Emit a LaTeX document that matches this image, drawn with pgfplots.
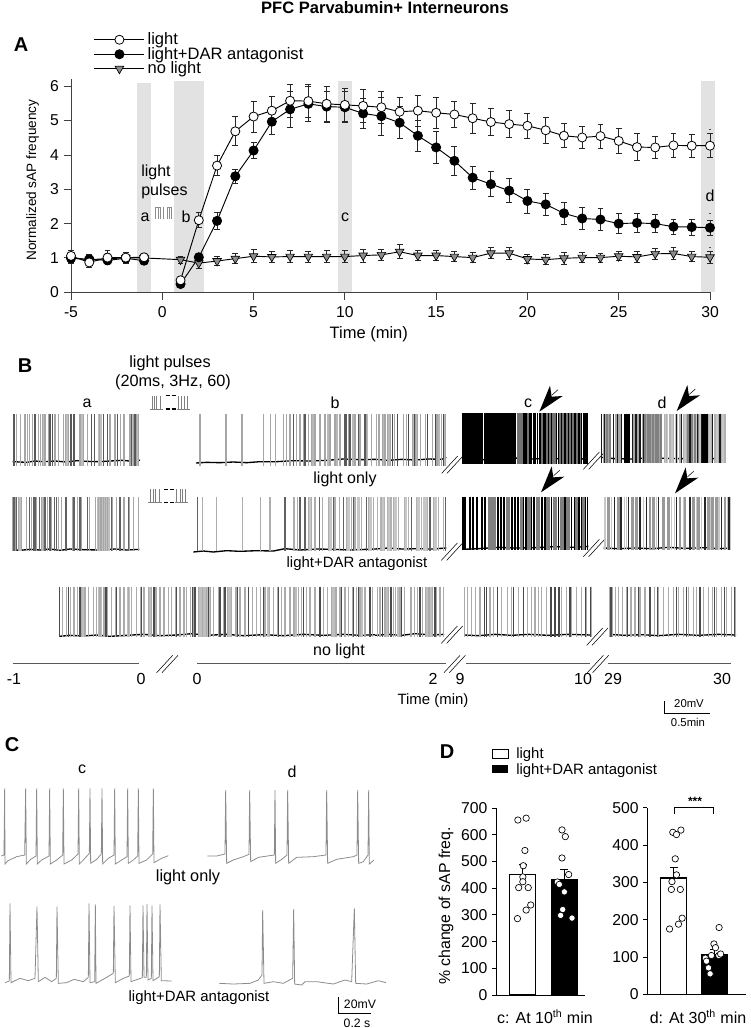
\documentclass[border=0pt]{standalone}
\usepackage{fontspec}
\setmainfont{Liberation Sans}
\usepackage{pgfplots}
\pgfplotsset{compat=1.18}

\definecolor{band}{HTML}{E2E2E2}
\definecolor{tracegray}{HTML}{8C8C8C}
\newcommand{\fs}{\fontsize{11.2}{13}\selectfont}
\newcommand{\fsm}{\fontsize{12}{14}\selectfont}
\newcommand{\fsb}{\fontsize{15}{17}\selectfont\bfseries}

% one row of spikes: half height, colour, line width, centre y, x list
\newcommand{\spk}[5]{\addplot[only marks, mark=|, mark size=#1, color=#2,
  mark options={draw=#2, line width=#3+0.3pt}]
  table[row sep=\\, header=false, x index=0, y expr=#4] {#5};}
\newcommand{\base}[1]{\addplot[black, line width=1pt, no marks] coordinates {#1};}
\newcommand{\brk}[2]{\draw[black, line width=0.4pt] (axis cs:#1,#2) -- (axis cs:#1+48,#2-52)
  (axis cs:#1+16,#2) -- (axis cs:#1+64,#2-52);}
\newcommand{\arrowh}[2]{\fill[black] (axis cs:#1,#2) -- (axis cs:#1+32,#2-78) -- (axis cs:#1+37,#2-45)
  -- (axis cs:#1+70,#2-47) -- cycle;
  \draw[black, line width=0.4pt] (axis cs:#1+38,#2-50) -- (axis cs:#1+56,#2-66);}
\newcommand{\pulses}[2]{\draw[gray, line width=0.4pt]
  (axis cs:#1,#2+40) -- (axis cs:#1+40,#2+40) (axis cs:#1+6,#2) -- (axis cs:#1+6,#2+40)
  (axis cs:#1+14,#2) -- (axis cs:#1+14,#2+40) (axis cs:#1+20,#2) -- (axis cs:#1+20,#2+40)
  (axis cs:#1+32,#2) -- (axis cs:#1+32,#2+40)
  (axis cs:#1+80,#2+40) -- (axis cs:#1+120,#2+40) (axis cs:#1+85,#2) -- (axis cs:#1+85,#2+40)
  (axis cs:#1+95,#2) -- (axis cs:#1+95,#2+40) (axis cs:#1+102,#2) -- (axis cs:#1+102,#2+40)
  (axis cs:#1+112,#2) -- (axis cs:#1+112,#2+40);
  \draw[black, line width=1pt] (axis cs:#1+47,#2) -- (axis cs:#1+60,#2) (axis cs:#1+65,#2) -- (axis cs:#1+77,#2)
  (axis cs:#1+47,#2+40) -- (axis cs:#1+60,#2+40) (axis cs:#1+65,#2+40) -- (axis cs:#1+77,#2+40);}

\pgfplotsset{ebar/.style={error bars/.cd, y dir=both, y explicit,
    error bar style={black!85, line width=0.65pt},
    error mark options={rotate=90, black!85, mark size=2.2pt, line width=0.65pt}},
  trace/.style={tracegray, line width=0.6pt, no marks}}

\pgfplotstableread{
x y e
-5 1.06 .15
-4 0.87 .15
-3 1.01 .20
-2 1.01 .15
-1 1.02 .12
0 nan 0
1 0.35 .10
2 2.10 .22
3 3.69 .30
4 4.69 .42
5 5.12 .45
6 5.29 .43
7 5.58 .49
8 5.57 .49
9 5.49 .50
10 5.46 .49
11 5.43 .48
12 5.39 .47
13 5.26 .41
14 5.29 .45
15 5.23 .45
16 5.18 .39
17 5.07 .43
18 4.96 .39
19 4.90 .39
20 4.85 .37
21 4.72 .37
22 4.56 .35
23 4.51 .33
24 4.55 .35
25 4.41 .36
26 4.23 .39
27 4.22 .33
28 4.28 .34
29 4.27 .33
30 4.27 .35
}\lighttab
\pgfplotstableread{
x y e
-5 0.99 .12
-4 0.96 .12
-3 0.93 .12
-2 0.99 .12
-1 0.92 .12
0 nan 0
1 0.24 .08
2 1.02 .10
3 2.08 .25
4 3.38 .20
5 4.13 .24
6 4.97 .38
7 5.33 .52
8 5.49 .50
9 5.41 .45
10 5.39 .45
11 5.21 .45
12 5.13 .55
13 4.94 .47
14 4.56 .45
15 4.22 .46
16 3.83 .42
17 3.34 .33
18 3.15 .37
19 2.96 .35
20 2.66 .35
21 2.56 .33
22 2.30 .32
23 2.15 .33
24 2.12 .33
25 2.00 .30
26 2.02 .28
27 2.00 .26
28 1.91 .22
29 1.90 .23
30 1.88 .22
}\dartab
\pgfplotstableread{
x y e
-5 1.00 .15
-4 0.95 .15
-3 0.98 .15
-2 1.00 .15
-1 1.00 .12
1 0.95 .10
2 0.85 .16
3 0.91 .14
4 0.98 .15
5 1.05 .19
6 1.03 .15
7 1.04 .17
8 1.04 .16
9 1.04 .17
10 1.04 .17
11 1.07 .19
12 1.09 .15
13 1.18 .20
14 1.07 .14
15 1.07 .14
16 1.04 .14
17 1.01 .15
18 1.14 .16
19 1.14 .17
20 0.97 .13
21 0.95 .14
22 0.99 .17
23 1.01 .15
24 1.01 .13
25 1.05 .13
26 1.03 .17
27 1.12 .15
28 1.13 .18
29 1.04 .15
30 1.02 .18
}\notab

\begin{document}
\begin{tikzpicture}
\path[use as bounding box] (0,0) rectangle (562.5pt,-771pt);

% panel A
\begin{axis}[
  at={(53.25pt,-219.2pt)}, anchor=south west, scale only axis,
  width=479.25pt, height=159.6pt,
  xmin=-5, xmax=30, ymin=0, ymax=6.2,
  axis lines=left, axis line style={-, black!75, line width=0.7pt},
  xtick={-5,0,...,30}, ytick={0,...,6},
  tick align=outside, tick style={black!75, line width=0.7pt}, major tick length=5.5pt,
  tick label style={font=\fontsize{11.8}{14}\selectfont}, /pgf/number format/assume math mode=true,
  xticklabel style={yshift=-2pt},
  xlabel={Time (min)}, ylabel={Normalized sAP frequency},
  xlabel style={font=\fontsize{12.4}{14}\selectfont, at={(axis description cs:0.466,0)}, anchor=north, yshift=-22.5pt},
  ylabel style={font=\fontsize{10.2}{12}\selectfont, at={(axis description cs:-0.060,0.527)}, anchor=center},
  clip=false, unbounded coords=jump,
  reverse legend,
  legend style={at={(17pt,178.5pt)}, anchor=west, draw=none, fill=none,
    font=\fontsize{12.4}{12.4}\selectfont,
    row sep=-3.6pt, inner sep=0pt, cells={anchor=west}},
  legend image code/.code={\draw[#1, mark repeat=2, mark phase=2]
    plot coordinates {(0cm,0cm) (0.66cm,0cm) (1.32cm,0cm)};},
]
\addplot[forget plot, fill=band, draw=none] coordinates {(-1.38,0)(-1.38,6.09)(-0.63,6.09)(-0.63,0)} --cycle;
\addplot[forget plot, fill=band, draw=none] coordinates {(0.63,0)(0.63,6.15)(2.27,6.15)(2.27,0)} --cycle;
\addplot[forget plot, fill=band, draw=none] coordinates {(9.6,0)(9.6,6.15)(10.37,6.15)(10.37,0)} --cycle;
\addplot[forget plot, fill=band, draw=none] coordinates {(29.5,0)(29.5,6.15)(30.3,6.15)(30.3,0)} --cycle;
\addplot[black, line width=0.7pt, mark=triangle*, mark size=3.7pt,
  mark options={rotate=180, fill=black!45, draw=black, line width=0.5pt}, ebar]
  table[x=x, y=y, y error=e] {\notab};
\addlegendentry{no light}
\addplot[black, line width=0.7pt, mark=*, mark size=3.4pt,
  mark options={fill=black, draw=black}, ebar]
  table[x=x, y=y, y error=e] {\dartab};
\addlegendentry{light+DAR antagonist}
\addplot[black, line width=0.7pt, mark=*, mark size=3.4pt,
  mark options={fill=white, draw=black, line width=0.6pt}, ebar]
  table[x=x, y=y, y error=e] {\lighttab};
\addlegendentry{light}
\end{axis}

% panel B, left half, coordinates are 3x pixels from y=350
\begin{axis}[
  at={(0pt,-532.5pt)}, anchor=south west, scale only axis,
  width=281.25pt, height=270pt, hide axis, clip=false,
  xmin=0, xmax=1125, ymin=0, ymax=1080, y dir=reverse]
% row 1, a
\spk{19.5pt}{black!25}{2pt}{270}{130\\200\\245\\300\\402\\408\\}
\spk{19.5pt}{black!35}{0.7pt}{270}{50\\62\\75\\82\\88\\97\\115\\122\\128\\135\\145\\165\\175\\190\\197\\205\\240\\250\\262\\298\\330\\345\\362\\372\\390\\402\\410\\415\\}
\spk{19.5pt}{black!65}{0.7pt}{270}{42\\105\\150\\158\\213\\222\\275\\283\\310\\322\\352\\395\\405\\}
\base{(38,335)(60,336)(80,337)(105,333)(130,335)(165,333)(200,336)(230,332)(260,334)(295,335)(330,333)(365,331)(400,334)(410,329)(420,331)}
% row 1, b
\spk{19.5pt}{black!28}{2pt}{270}{940\\985\\1010\\1060\\1100\\}
\spk{19.5pt}{black!35}{0.7pt}{270}{600\\678\\726\\790\\812\\826\\850\\860\\870\\880\\890\\900\\912\\925\\935\\945\\960\\975\\990\\1005\\1020\\1045\\1065\\1080\\1100\\1115\\}
\spk{19.5pt}{black!65}{0.7pt}{270}{880\\915\\1035\\1040\\1050\\1075\\1095\\}
\base{(588,339)(620,337)(660,338)(700,336)(740,338)(780,335)(830,335)(880,332)(930,333)(980,331)(1030,327)(1080,329)(1125,328)}
% row 2, a
\spk{20pt}{black!25}{2.2pt}{522}{58\\130\\295\\305\\315\\325\\}
\spk{20pt}{black!35}{0.7pt}{522}{38\\46\\55\\65\\80\\95\\110\\125\\130\\143\\155\\175\\185\\218\\232\\243\\268\\287\\295\\303\\310\\316\\323\\338\\350\\372\\388\\400\\415\\}
\spk{20pt}{black!62}{0.7pt}{522}{42\\50\\88\\100\\105\\118\\135\\150\\163\\170\\197\\200\\222\\240\\262\\335\\360\\385\\}
\base{(38,599)(60,601)(90,598)(120,600)(150,597)(180,601)(210,597)(250,599)(300,600)(345,597)(380,600)(418,598)}
% row 2, b
\spk{20pt}{black!22}{2pt}{522}{930\\990\\1045\\1075\\1110\\}
\spk{20pt}{black!32}{0.7pt}{522}{608\\650\\728\\782\\810\\882\\892\\925\\935\\945\\968\\985\\1005\\1018\\1040\\1055\\1065\\1085\\1105\\1120\\}
\spk{20pt}{black!62}{0.7pt}{522}{592\\855\\900\\915\\958\\1000\\1030\\1060\\1100\\}
\base{(580,606)(610,603)(640,606)(680,602)(720,604)(770,602)(820,603)(855,596)(900,600)(950,597)(1000,598)(1050,600)(1125,597)}
% row 3, long trace
\spk{18.8pt}{black!25}{2.2pt}{785}{248\\300\\385\\450\\600\\612\\625\\690\\805\\885\\1000\\1085\\}
\spk{18.8pt}{black!33}{0.7pt}{785}{188\\200\\212\\222\\232\\245\\255\\265\\280\\290\\300\\312\\322\\335\\348\\360\\372\\385\\395\\410\\422\\432\\445\\455\\468\\480\\492\\505\\515\\528\\540\\552\\560\\572\\582\\595\\608\\620\\632\\640\\655\\670\\682\\695\\708\\720\\735\\745\\758\\770\\782\\795\\808\\820\\832\\845\\855\\870\\882\\895\\905\\920\\930\\945\\958\\970\\982\\995\\1008\\1020\\1035\\1045\\1058\\1070\\1080\\1095\\1108\\1118\\}
\spk{18.8pt}{black!70}{0.7pt}{785}{178\\205\\240\\318\\350\\425\\462\\530\\578\\585\\625\\660\\675\\712\\745\\790\\835\\910\\960\\1025\\1060\\1075\\1110\\}
\base{(178,859)(210,856)(250,858)(290,855)(330,859)(380,856)(430,853)(480,857)(530,855)(575,851)(620,856)(680,853)(730,857)(790,854)(850,857)(910,853)(970,856)(1030,853)(1080,856)(1125,854)}
\draw[black!65, line width=0.9pt] (axis cs:38,941) -- (axis cs:416,941) (axis cs:592,941) -- (axis cs:1125,941);
\brk{470}{968}
\pulses{450}{137}
\pulses{445}{418}
\end{axis}

% panel B, right half
\begin{axis}[
  at={(281.25pt,-532.5pt)}, anchor=south west, scale only axis,
  width=281.25pt, height=270pt, hide axis, clip=false,
  xmin=0, xmax=1125, ymin=0, ymax=1080, y dir=reverse]
% row 1, end of b
\spk{19.5pt}{black!28}{2pt}{270}{28\\42\\120\\190\\208\\}
\spk{19.5pt}{black!35}{0.7pt}{270}{5\\12\\22\\30\\38\\46\\58\\85\\95\\112\\120\\128\\137\\152\\172\\186\\200\\212\\}
\spk{19.5pt}{black!70}{0.7pt}{270}{52\\68\\100\\118\\158\\182\\205\\}
\base{(0,328)(40,331)(80,328)(120,330)(160,327)(200,328)(214,322)}
% row 1, c
\spk{19pt}{black!55}{1.2pt}{266}{428\\435\\440\\460\\500\\515\\525\\535\\540\\555\\565\\575\\585\\595\\605\\617\\}
\spk{19pt}{black}{0.5pt}{266}{300\\305\\320\\323\\348\\397\\420\\445\\450\\455\\465\\470\\475\\480\\488\\495\\505\\510\\520\\530\\545\\550\\560\\570\\580\\590\\600\\612\\620\\625\\630\\636\\}
\spk{19pt}{black}{2.2pt}{266}{266\\275\\284\\293\\312\\331\\340\\356\\365\\374\\383\\392\\404\\413\\}
\base{(262,326)(300,330)(350,328)(420,324)(470,327)(520,325)(580,328)(638,326)}
% row 1, d
\spk{18.5pt}{black!35}{2.2pt}{265}{690\\700\\725\\735\\780\\792\\805\\815\\825\\835\\845\\855\\}
\spk{18.5pt}{black!22}{2.2pt}{265}{875\\890\\905\\930\\945\\960\\972\\1005\\1025\\1045\\}
\spk{18.5pt}{black!30}{0.8pt}{265}{868\\875\\885\\895\\905\\915\\925\\935\\1000\\1010\\1020\\1030\\1040\\1050\\}
\spk{18.5pt}{black!50}{1.1pt}{265}{695\\705\\810\\818\\826\\834\\842\\850\\858\\940\\950\\960\\970\\}
\spk{18.5pt}{black!90}{0.5pt}{265}{680\\688\\715\\728\\740\\772\\783\\795\\806\\905\\920\\945\\968\\980\\1013\\1035\\}
\spk{18.5pt}{black}{2.2pt}{265}{752\\761\\985\\994\\}
\base{(678,322)(720,326)(770,327)(820,323)(870,325)(920,326)(970,322)(1010,326)(1053,324)}
% row 2, end of b
\spk{20pt}{black!22}{2pt}{522}{22\\42\\60\\92\\130\\150\\180\\}
\spk{20pt}{black!30}{0.7pt}{522}{8\\18\\28\\38\\48\\55\\70\\88\\100\\125\\140\\158\\175\\190\\205\\}
\spk{20pt}{black!62}{0.7pt}{522}{110\\165\\212\\}
\base{(0,597)(40,594)(80,597)(130,596)(170,597)(214,594)}
% row 2, c
\spk{20pt}{black!50}{2.6pt}{520}{345\\358\\398\\440\\462\\490\\520\\540\\560\\580\\605\\625\\}
\spk{20pt}{black}{0.5pt}{520}{262\\272\\294\\330\\378\\420\\445\\470\\510\\530\\550\\570\\590\\598\\612\\620\\632\\638\\}
\spk{20pt}{black}{1.4pt}{520}{266\\284\\306\\320\\370\\388\\410\\430\\452\\476\\500\\}
\base{(262,598)(310,596)(370,592)(420,594)(480,593)(540,590)(600,592)(640,589)}
% row 2, d
\spk{20pt}{black!40}{1.7pt}{520}{700\\730\\772\\785\\825\\835\\865\\880\\915\\930\\955\\970\\1000\\1012\\1025\\1050\\}
\spk{20pt}{black!22}{0.8pt}{520}{690\\710\\748\\755\\805\\845\\890\\898\\925\\965\\980\\1006\\1032\\1058\\1066\\}
\spk{20pt}{black!85}{0.5pt}{520}{718\\738\\760\\795\\815\\850\\905\\945\\990\\1040\\1062\\}
\base{(686,594)(730,596)(780,594)(830,596)(880,592)(930,595)(990,593)(1030,596)(1067,594)}
% row 3, end of long trace
\spk{18.8pt}{black!25}{2pt}{785}{35\\70\\155\\168\\}
\spk{18.8pt}{black!33}{0.7pt}{785}{8\\15\\30\\40\\55\\62\\75\\88\\108\\118\\128\\142\\152\\162\\172\\185\\195\\205\\}
\spk{18.8pt}{black!70}{0.7pt}{785}{22\\48\\80\\135\\180\\}
\base{(0,856)(40,853)(80,856)(120,851)(170,855)(207,853)}
% row 3, c
\spk{18.8pt}{black!33}{0.7pt}{785}{268\\278\\290\\302\\315\\345\\355\\380\\398\\410\\430\\458\\470\\480\\490\\500\\515\\560\\575\\590\\605\\620\\635\\648\\}
\spk{18.8pt}{black!72}{0.7pt}{785}{328\\335\\368\\415\\445\\528\\540\\552\\585\\632\\646\\}
\base{(268,855)(310,857)(360,853)(410,856)(460,853)(520,856)(580,853)(648,855)}
% row 3, d
\spk{18.8pt}{black!33}{0.7pt}{785}{703\\712\\722\\730\\742\\755\\768\\780\\795\\810\\825\\838\\850\\865\\880\\895\\910\\925\\940\\955\\965\\985\\1000\\1012\\1025\\1040\\1055\\1070\\1082\\}
\spk{18.8pt}{black!70}{0.7pt}{785}{708\\757\\790\\825\\848\\905\\935\\975\\1018\\1048\\1078\\}
\base{(703,853)(750,856)(800,854)(850,857)(910,853)(970,856)(1030,853)(1083,855)}
\draw[black!65, line width=0.9pt] (axis cs:0,941) -- (axis cs:213,941) (axis cs:273,941) -- (axis cs:645,941) (axis cs:698,941) -- (axis cs:1067,941);
\brk{200}{370}
\brk{625}{358}
\brk{199}{631}
\brk{625}{620}
\brk{199}{880}
\brk{635}{886}
\brk{207}{968}
\brk{637}{968}
\arrowh{493}{185}
\arrowh{498}{427}
\arrowh{905}{183}
\arrowh{900}{430}
\end{axis}

% panel C, coordinates are 3x pixels from y=720
\begin{axis}[
  at={(0pt,-771pt)}, anchor=south west, scale only axis,
  width=300pt, height=231pt, hide axis, clip=false,
  xmin=0, xmax=1200, ymin=0, ymax=924, y dir=reverse]
\addplot[trace] coordinates {(4,408)(12,405)(14,205)(15,432)(24,422)(50,410)(74,405)(77,205)(79,432)(92,418)(108,408)(110,205)(112,432)(125,420)(147,408)(149,205)(151,432)(170,420)(188,405)(190,205)(192,432)(215,420)(234,402)(236,205)(238,432)(250,420)(268,400)(270,205)(272,430)(290,418)(304,402)(306,205)(308,432)(325,415)(342,405)(344,205)(346,432)(365,420)(381,410)(383,205)(385,430)(400,420)(413,408)(415,205)(417,430)(440,420)(458,402)(460,205)(462,428)(485,415)(505,407)};
\addplot[trace] coordinates {(622,408)(650,408)(675,402)(677,210)(680,430)(700,420)(730,410)(747,403)(749,210)(752,425)(775,412)(823,405)(825,210)(827,430)(845,418)(861,405)(863,210)(866,430)(890,412)(940,410)(978,405)(980,210)(983,430)(1010,418)(1060,410)(1071,405)(1073,210)(1076,430)(1090,425)(1104,405)(1106,210)(1108,432)(1122,420)};
\addplot[trace] coordinates {(15,788)(28,783)(30,550)(33,788)(45,782)(60,775)(85,782)(105,775)(111,560)(115,785)(135,772)(155,785)(169,775)(171,560)(175,790)(200,788)(222,778)(250,785)(265,772)(267,550)(270,788)(284,785)(286,553)(288,790)(315,775)(340,760)(342,558)(346,788)(370,775)(388,768)(390,556)(393,785)(427,773)(429,556)(432,772)(439,772)(441,552)(444,780)(454,775)(456,557)(459,782)(478,770)(480,553)(484,782)(515,783)};
\addplot[trace] coordinates {(658,790)(700,792)(750,790)(775,780)(786,765)(788,570)(792,790)(820,785)(850,790)(878,775)(881,567)(884,792)(905,795)(915,785)(950,785)(1000,792)(1035,780)(1055,785)(1063,565)(1067,790)(1100,792)(1135,782)(1158,788)};
\end{axis}

% panel D, left
\begin{axis}[
  at={(372pt,-746.25pt)}, anchor=south west, scale only axis,
  width=66.75pt, height=140.25pt,
  xmin=-0.647, xmax=1.498, ymin=0, ymax=700,
  axis lines=left, axis line style={-, black, line width=0.7pt},
  xtick=\empty, ytick={0,100,...,700},
  tick align=outside, tick style={black, line width=0.7pt}, major tick length=3pt,
  tick label style={font=\fontsize{11.8}{14}\selectfont}, /pgf/number format/assume math mode=true,
  clip=false]
\addplot[ybar, bar width=19.5pt, bar shift=0pt, fill=white, draw=black, line width=0.8pt,
  error bars/.cd, y dir=plus, y explicit, error bar style={black, line width=0.7pt},
  error mark options={rotate=90, black, mark size=3pt, line width=0.7pt}]
  coordinates {(0,450) +- (0,39)};
\addplot[ybar, bar width=19.5pt, bar shift=0pt, fill=black, draw=black, line width=0.8pt,
  error bars/.cd, y dir=plus, y explicit, error bar style={black, line width=0.7pt},
  error mark options={rotate=90, black, mark size=3pt, line width=0.7pt}]
  coordinates {(1,432) +- (0,37)};
\addplot[only marks, mark=*, mark size=2.4pt, mark options={fill=white, draw=black, line width=0.5pt}]
  coordinates {(-.12,655)(.08,662)(.05,541)(.01,484)(0,442)(0,424)(-.1,402)(.13,402)(.19,337)(.08,318)(-.13,286)
  (.944,618)(1.024,593)(.944,513)(1.104,451)(.831,423)(.88,414)(1,386)(.96,320)(.91,298)(1.185,288)};
\end{axis}

% panel D, right
\begin{axis}[
  at={(485.5pt,-745.75pt)}, anchor=south west, scale only axis,
  width=74pt, height=140pt,
  xmin=-0.646, xmax=1.78, ymin=0, ymax=500,
  axis lines=left, axis line style={-, black, line width=0.7pt},
  xtick=\empty, ytick={0,100,...,500},
  tick align=outside, tick style={black, line width=0.7pt}, major tick length=3pt,
  tick label style={font=\fontsize{11.8}{14}\selectfont}, /pgf/number format/assume math mode=true,
  clip=false]
\addplot[ybar, bar width=19.5pt, bar shift=0pt, fill=white, draw=black, line width=0.8pt,
  error bars/.cd, y dir=plus, y explicit, error bar style={black, line width=0.7pt},
  error mark options={rotate=90, black, mark size=3pt, line width=0.7pt}]
  coordinates {(0,311.6) +- (0,29.4)};
\addplot[ybar, bar width=19.5pt, bar shift=0pt, fill=black, draw=black, line width=0.8pt,
  error bars/.cd, y dir=plus, y explicit, error bar style={black, line width=0.7pt},
  error mark options={rotate=90, black, mark size=3pt, line width=0.7pt}]
  coordinates {(1,107) +- (0,12)};
\addplot[only marks, mark=*, mark size=2.4pt, mark options={fill=white, draw=black, line width=0.5pt}]
  coordinates {(-.02,434)(.18,440)(.07,428)(.04,363)(.07,320)(-.04,302)(-.055,281)(.165,281)(.21,204)(.12,188)(-.1,175)
  (1.118,179)(.992,135)(1.03,125)(.93,104)(1.11,104)(1.157,108)(.78,97)(.81,89)(.858,71)(.898,55)};
\addplot[black, line width=0.6pt, no marks] coordinates {(.03,483)(.03,500)(.97,500)(.97,483)};
\end{axis}

\begin{scope}[x=0.75pt, y=-0.75pt]
\node[font=\fontsize{12.4}{14}\selectfont\bfseries] at (385,8) {PFC Parvabumin+ Interneurons};
\node[font=\fsb] at (21,45) {A};
\node[font=\fsb] at (25,366) {B};
\node[font=\fsb] at (12,745) {C};
\node[font=\fsb] at (447,752) {D};
% A annotations
\node[font=\fsm, anchor=west, inner sep=0pt] at (141,172) {light};
\node[font=\fsm, anchor=west, inner sep=0pt] at (141,191) {pulses};
\node[font=\fsm] at (145,217) {a};
\node[font=\fsm] at (186,217) {b};
\node[font=\fsm] at (345,217) {c};
\node[font=\fsm] at (710,196) {d};
\draw[black!45, line width=0.5pt] (155.5,207) -- (155.5,219) (158,207) -- (158,219) (160,207) -- (160,219)
  (163.5,207) -- (163.5,219) (167,207) -- (167,219) (169,207) -- (169,219) (171,207) -- (171,219) (155.5,207) -- (160,207) (167,207) -- (171,207);
\draw[black!70, line width=0.4pt] (709,129.5) -- (711,129.5) (709,213) -- (711,213) (709,247) -- (711,247);
% B text
\node[font=\fontsize{12.2}{14}\selectfont] at (170,363) {light pulses};
\node[font=\fontsize{12.2}{14}\selectfont] at (173,382) {(20ms, 3Hz, 60)};
\node[font=\fsm] at (87,403) {a};
\node[font=\fsm] at (335,403) {b};
\node[font=\fsm] at (528,403) {c};
\node[font=\fsm] at (662,403) {d};
\node[font=\fsm] at (345,479) {light only};
\node[font=\fs] at (357,564) {light+DAR antagonist};
\node[font=\fsm] at (339,651) {no light};
\node[font=\fsm] at (14,679) {-1};
\node[font=\fsm] at (141,679) {0};
\node[font=\fsm] at (197,679) {0};
\node[font=\fsm] at (433,679) {2};
\node[font=\fsm] at (460,679) {9};
\node[font=\fsm] at (583,679) {10};
\node[font=\fsm] at (613,679) {29};
\node[font=\fsm] at (722,679) {30};
\node[font=\fs] at (433,701) {Time (min)};
\draw[black, line width=0.6pt] (664,701) -- (664,713) -- (710,713);
\node[font=\fontsize{8.5}{10}\selectfont] at (689,704) {20mV};
\node[font=\fontsize{8.5}{10}\selectfont] at (688,722) {0.5min};
% C text
\node[font=\fsm] at (82,769) {c};
\node[font=\fsm] at (292,772) {d};
\node[font=\fontsize{12.2}{14}\selectfont] at (188,877) {light only};
\node[font=\fs] at (199,998) {light+DAR antagonist};
\draw[black, line width=0.6pt] (338,997) -- (338,1013) -- (371,1013);
\node[font=\fontsize{9.2}{10}\selectfont] at (360,1004) {20mV};
\node[font=\fontsize{9.2}{10}\selectfont] at (357,1023) {0.2 s};
% D text
\draw[black, line width=0.7pt] (492,749) rectangle (508,758);
\fill[black] (491.6,764.6) rectangle (508.4,773.4);
\node[font=\fs, anchor=west, inner sep=0pt] at (516,755) {light};
\node[font=\fs, anchor=west, inner sep=0pt] at (516,771) {light+DAR antagonist};
\node[font=\fontsize{11.9}{14}\selectfont, rotate=90] at (446,906) {\% change of sAP freq.};
\node[font=\fontsize{12}{14}\selectfont] at (545,1017) {c: At 10\textsuperscript{th} min};
\node[font=\fontsize{12}{14}\selectfont] at (698,1017) {d: At 30\textsuperscript{th} min};
\node[font=\fontsize{9}{10}\selectfont\bfseries] at (695,801) {***};
\end{scope}
\end{tikzpicture}
\end{document}
